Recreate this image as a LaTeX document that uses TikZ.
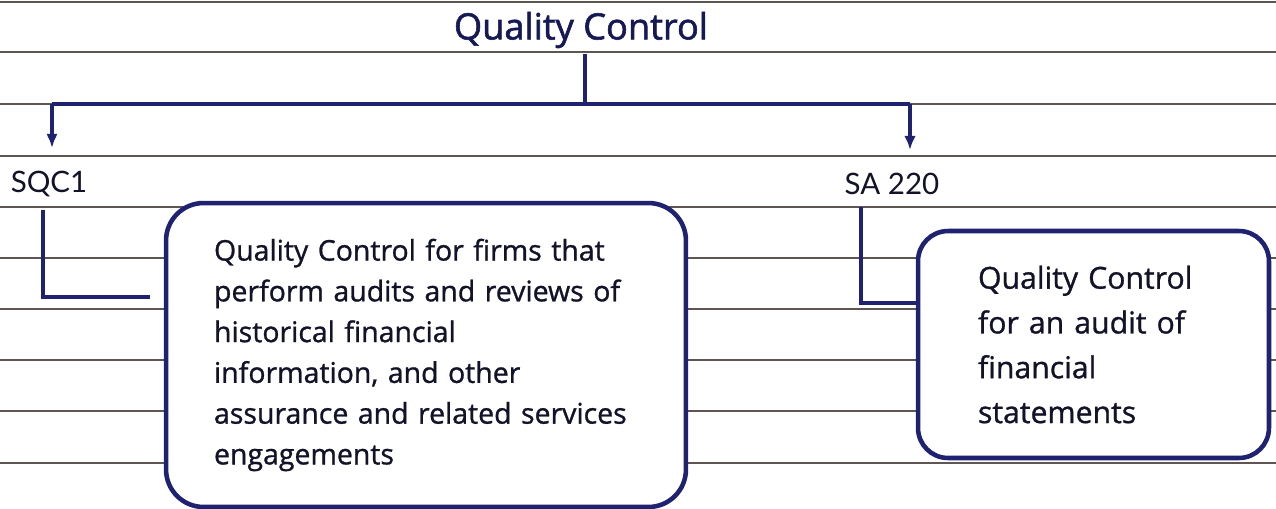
\documentclass[tikz,border=0pt]{standalone}
\usepackage{fontspec}
\setmainfont{Open Sans}
\newfontfamily\titlefont{Open Sans}[FakeBold=1.6]
\newfontfamily\cardfont{Open Sans}[FakeBold=1.0]
\newfontfamily\labelfont{Lato}
\usetikzlibrary{arrows.meta}
\definecolor{ink}{RGB}{30,34,112}
\definecolor{rule}{RGB}{95,86,84}
\definecolor{txt}{RGB}{18,18,40}
\begin{document}
\begin{tikzpicture}[x=0.02cm,y=-0.02cm,
    ruled/.style={draw=rule,line width=1.1pt},
    link/.style={draw=ink,line width=2pt},
    card/.style={draw=ink,line width=2.6pt,fill=white,align=left,text=txt,inner sep=0pt},
    tag/.style={font=\labelfont\fontsize{16.8}{18}\selectfont,text=txt,inner sep=7pt}]
  \useasboundingbox (0,0) rectangle (1276,508);
  % notebook lines
  \foreach \y in {2,52,104,156,207,258,309,360,411,463}
    \draw[ruled] (0,\y) -- (1276,\y);
  \draw
    (581,30) node[font=\titlefont\fontsize{20.6}{24}\selectfont,text=ink!75!black] (title){Quality Control}
    (49,184) node[tag] (sqc){SQC1}
    (892,184) node[tag] (sa){SA 220}
    (426,355) node[card,rounded corners=0.75cm,minimum width=10.4cm,minimum height=6.08cm,
      text width=8.48cm,font=\cardfont\fontsize{16.2}{23.2}\selectfont] (firms){Quality Control for firms that\\
      perform audits and reviews of\\ historical financial\\ information, and other\\
      assurance and related services\\ engagements}
    (1093.5,344.5) node[card,rounded corners=0.6cm,minimum width=7.02cm,minimum height=4.54cm,
      text width=4.62cm,font=\cardfont\fontsize{17.2}{25.5}\selectfont] (audit){Quality Control\\
      for an audit of\\ financial\\ statements};
  \coordinate (split) at (585,104);
  \coordinate (left) at (52,104);
  \coordinate (right) at (910,104);
  \coordinate (sqcbend) at (43,297);
  \coordinate (sabend) at (861,303);
  \begin{scope}[link]
    \draw (title.south -| split) -- (split);
    \draw (left) -- (right);
    \draw[-{Latex[length=8pt,width=6.5pt]},shorten >=6pt] (left) -- (left |- sqc.north);
    \draw[-{Latex[length=8pt,width=6.5pt]},shorten >=6pt] (right) -- (right |- sa.north);
    \draw (sqc.south -| sqcbend) -- (sqcbend) -- ([xshift=-0.28cm]firms.west |- sqcbend);
    \draw (sa.south -| sabend) -- (sabend) -- (sabend -| audit.west);
  \end{scope}
\end{tikzpicture}
\end{document}
